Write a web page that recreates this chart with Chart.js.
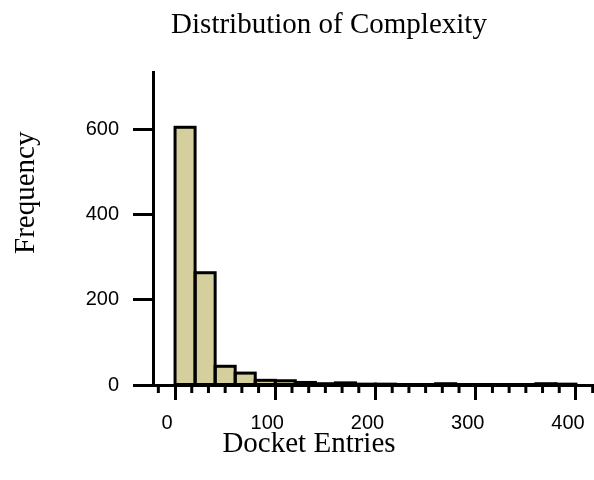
<!DOCTYPE html>
<html>
<head>
<meta charset="utf-8">
<title>Distribution of Complexity</title>
<script src="https://cdn.jsdelivr.net/npm/chart.js@4.4.0/dist/chart.umd.min.js"></script>
<style>
    html, body { margin: 0; padding: 0; background: #fff; }
    #histChart { display: block; }
</style>
</head>
<body>
<canvas id="histChart" width="594" height="480"></canvas>
<script>
// Histogram data (bins of 20 docket entries, centre of each bin)
const binCenters = [10, 30, 50, 70, 90, 110, 130, 150, 170, 190, 210, 230, 250, 270, 290, 310, 330, 350, 370, 390];
const counts = [606, 264, 44, 28, 11, 10, 6, 3, 5, 2, 2, 1, 1, 3, 1, 1, 1, 1, 3, 2];

// Axis ticks
const xTicks = [0, 100, 200, 300, 400];
const yTicks = [0, 200, 400, 600];

// Text
const chartTitle = 'Distribution of Complexity';
const xTitle = 'Docket Entries';
const yTitle = 'Frequency';

const SERIF = '"Liberation Serif", "Times New Roman", serif';
const SANS = '"Liberation Sans", Arial, sans-serif';

// Outlines, minor ticks and titles
const extrasPlugin = {
    id: 'extras',
    afterDatasetsDraw(chart) {
        const ctx = chart.ctx;
        const meta = chart.getDatasetMeta(0);
        ctx.save();
        ctx.strokeStyle = '#000';
        ctx.lineWidth = 3;
        ctx.lineJoin = 'miter';
        meta.data.forEach(bar => {
            const p = bar.getProps(['x', 'y', 'base', 'width'], true);
            ctx.strokeRect(p.x - p.width / 2, p.y, p.width, p.base - p.y);
        });
        ctx.restore();
    },
    afterDraw(chart) {
        const ctx = chart.ctx;
        const xs = chart.scales.x;
        const bottom = chart.chartArea.bottom;

        // minor ticks on x axis, six per 100
        ctx.save();
        ctx.strokeStyle = '#000';
        ctx.lineWidth = 3;
        for (let k = -6; k <= 30; k++) {
            if (k % 6 === 0) continue;
            const v = k * 100 / 6;
            if (v < xs.min || v > xs.max) continue;
            const px = xs.getPixelForValue(v);
            ctx.beginPath();
            ctx.moveTo(px, bottom);
            ctx.lineTo(px, bottom + 8);
            ctx.stroke();
        }

        // titles
        ctx.fillStyle = '#000';
        ctx.font = '29px ' + SERIF;
        ctx.textBaseline = 'alphabetic';
        ctx.textAlign = 'center';
        ctx.fillText(chartTitle, 329, 33);
        ctx.fillText(xTitle, 309, 452);

        ctx.translate(34, 254);
        ctx.rotate(-Math.PI / 2);
        ctx.textAlign = 'left';
        ctx.fillText(yTitle, 0, 0);
        ctx.restore();
    }
};

const ctx = document.getElementById('histChart').getContext('2d');

new Chart(ctx, {
    type: 'bar',
    data: {
        datasets: [{
            label: yTitle,
            data: binCenters.map((c, i) => ({ x: c, y: counts[i] })),
            backgroundColor: 'rgb(212, 207, 156)',
            borderWidth: 0,
            barPercentage: 1,
            categoryPercentage: 1
        }]
    },
    options: {
        responsive: false,
        animation: false,
        layout: { padding: { top: 72, left: 0, right: 0, bottom: 0 } },
        plugins: {
            legend: { display: false },
            title: { display: false },
            tooltip: { enabled: false }
        },
        scales: {
            x: {
                type: 'linear',
                min: -22,
                max: 418,
                offset: false,
                afterFit: scale => {
                    scale.height = 95;
                    scale.paddingLeft = 0;
                    scale.paddingRight = 0;
                },
                afterBuildTicks: scale => { scale.ticks = xTicks.map(v => ({ value: v })); },
                border: { display: true, width: 3, color: '#000' },
                grid: { offset: false, drawOnChartArea: false, drawTicks: true, tickLength: 15, tickWidth: 3, tickColor: '#000' },
                ticks: {
                    color: '#000',
                    padding: 11,
                    labelOffset: -8,
                    maxRotation: 0,
                    autoSkip: false,
                    font: { family: SANS, size: 20 }
                }
            },
            y: {
                min: 0,
                max: 736,
                afterFit: scale => {
                    scale.width = 153;
                    scale.paddingTop = 0;
                    scale.paddingBottom = 0;
                },
                afterBuildTicks: scale => { scale.ticks = yTicks.map(v => ({ value: v })); },
                border: { display: true, width: 3, color: '#000' },
                grid: { drawOnChartArea: false, drawTicks: true, tickLength: 20, tickWidth: 3, tickColor: '#000' },
                ticks: {
                    color: '#000',
                    padding: 14,
                    font: { family: SANS, size: 20 }
                }
            }
        }
    },
    plugins: [extrasPlugin]
});
</script>
</body>
</html>
